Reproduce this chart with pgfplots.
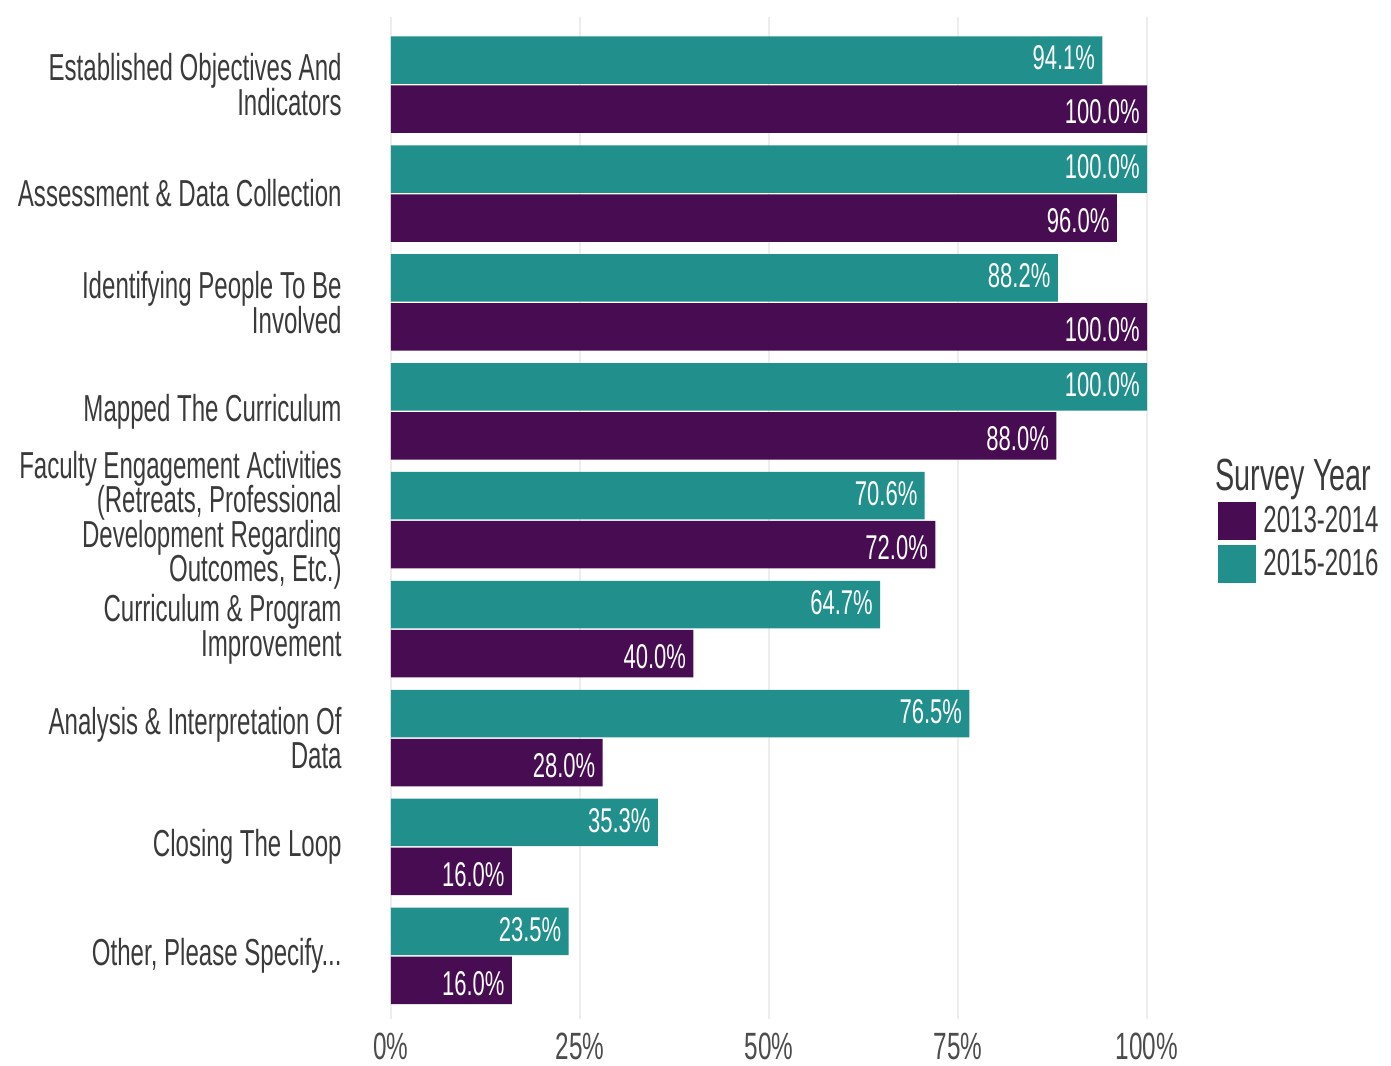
\documentclass[border=0pt]{standalone}
\usepackage{pgfplots}
\pgfplotsset{compat=1.18}
\usepackage{fontspec}
\setmainfont{Liberation Sans}[FakeStretch=0.64]
\definecolor{tealc}{HTML}{21908C}
\definecolor{purpc}{HTML}{470C52}
\definecolor{labc}{HTML}{3A3A3A}
\newcommand\labfont{\fontsize{18.8}{17.2}\selectfont\lineskiplimit=-20pt\relax\lineskip=0pt\relax}
\begin{document}
\begin{tikzpicture}
\useasboundingbox (-195.5pt,-23pt) rectangle (500pt,509.5pt);
\begin{axis}[
  at={(0,0)}, anchor=south west,
  scale only axis, width=378pt, height=500.94pt,
  xmin=0, xmax=100, ymin=-0.58, ymax=8.62,
  clip=false,
  xbar, bar width=23.75pt,
  axis line style={draw=none},
  major tick length=0pt,
  tick style={draw=none},
  /pgf/number format/assume math mode=true,
  xtick={0,25,50,75,100},
  xticklabels={0\%,25\%,50\%,75\%,100\%},
  xticklabel style={anchor=north, inner sep=0pt, yshift=-7pt, font=\fontsize{19}{21}\selectfont, text=black!70},
  xmajorgrids, grid style={draw=black!7, line width=1pt},
  ytick={0,1,2,3,4,5,6,7,8},
  yticklabels={{Other, Please Specify.\kern0pt.\kern0pt.},{Closing The Loop},{Analysis \& Interpretation Of\\Data},{Curriculum \& Program\\Improvement},{Faculty Engagement Activities\\(Retreats, Professional\\Development Regarding\\Outcomes, Etc.)},{Mapped The Curriculum},{Identifying People To Be\\Involved},{Assessment \& Data Collection},{Established Objectives And\\Indicators}},
  yticklabel style={anchor=east, align=right, inner sep=0pt, xshift=-24.5pt, font=\labfont, text=labc},
  nodes near coords={\pgfmathprintnumber[fixed,fixed zerofill,precision=1]{\pgfplotspointmeta}\%},
  point meta=x,
  every node near coord/.append style={anchor=east, xshift=-3.5pt, inner sep=0pt, text=white, font=\fontsize{17.2}{19}\selectfont},
  legend image code/.code={\fill[#1] (0pt,-9.5pt) rectangle (19pt,9.5pt);},
  legend cell align=left,
  legend style={at={(1.0939,0.5162)}, anchor=north west, draw=none, fill=none, inner sep=0pt, row sep=2.5pt, column sep=3.5pt, font=\fontsize{18.8}{20}\selectfont, text=labc, nodes={inner sep=0pt}},
]
\addplot[fill=purpc, draw=none, bar shift=-12.25pt, every node near coord/.append style={yshift=-1.5pt}] coordinates {(100,8) (96,7) (100,6) (88,5) (72,4) (40,3) (28,2) (16,1) (16,0)};
\addlegendentry{2013-2014}
\addplot[fill=tealc, draw=none, bar shift=12.25pt, every node near coord/.append style={yshift=1pt}] coordinates {(94.1,8) (100,7) (88.2,6) (100,5) (70.6,4) (64.7,3) (76.5,2) (35.3,1) (23.5,0)};
\addlegendentry{2015-2016}
\node[anchor=base west, inner sep=0pt, font=\fontsize{22.5}{24}\selectfont, text=labc] at (axis description cs:1.090,0.528) {Survey Year};
\end{axis}
\end{tikzpicture}
\end{document}
